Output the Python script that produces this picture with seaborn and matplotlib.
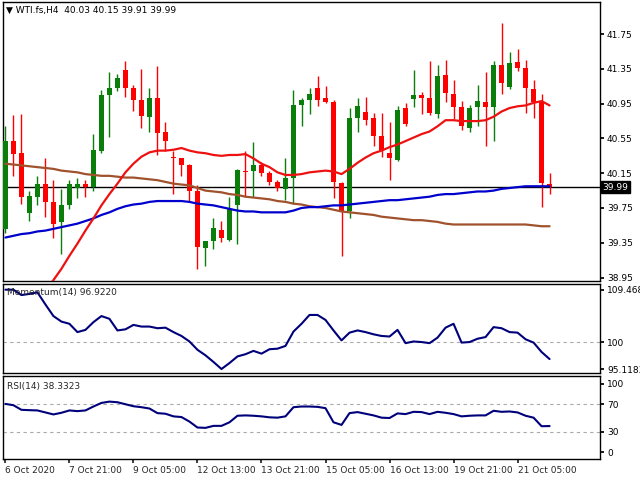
import numpy as np
import pandas as pd
import matplotlib
matplotlib.use("Agg")
import matplotlib.pyplot as plt
import seaborn as sns

opens = [39.51,40.52,40.38,39.69,39.88,40.03,39.82,39.59,39.78,39.98,40.03,39.99,40.41,41.05,41.13,41.34,41.13,40.99,40.80,41.01,
         40.62,40.34,40.32,40.24,39.95,39.29,39.37,39.50,39.38,39.79,40.18,40.17,40.24,40.15,40.05,39.97,40.10,40.94,40.99,41.13,
         41.01,40.97,40.04,39.71,40.78,40.86,40.78,40.58,40.38,40.30,40.90,41.00,41.05,41.01,40.83,41.28,41.06,40.91,40.67,40.91,
         40.97,40.91,41.39,41.14,41.43,41.36,41.12,40.97,40.03]
closes = [40.52,40.37,39.88,39.89,40.03,39.82,39.57,39.78,40.03,40.03,39.99,40.42,41.05,41.13,41.24,41.13,40.99,40.81,41.01,40.61,
          40.52,40.32,40.24,39.95,39.30,39.37,39.52,39.41,39.74,40.19,40.16,40.24,40.15,40.05,39.98,40.10,40.94,40.99,41.06,40.99,
          40.97,40.05,39.71,40.78,40.92,40.76,40.58,40.40,40.32,40.88,40.72,41.05,41.02,40.84,41.27,41.07,40.91,40.69,40.90,40.98,
          40.91,41.40,41.19,41.42,41.36,41.13,40.97,40.04,39.99]
highs = [40.69,40.82,40.83,39.95,40.12,40.32,40.07,39.97,40.07,40.09,40.07,40.60,41.11,41.32,41.29,41.44,41.16,41.35,41.13,41.38,
         40.74,40.41,40.32,40.26,40.01,39.37,39.63,39.60,39.88,40.20,40.41,40.51,40.28,40.17,40.07,40.33,41.11,41.02,41.13,41.27,
         41.15,40.99,40.05,40.90,41.02,41.03,40.84,40.84,40.74,40.92,40.96,41.34,41.09,41.44,41.39,41.45,41.22,40.98,40.94,41.17,
         41.31,41.44,41.88,41.55,41.58,41.45,41.22,41.06,40.15]
lows = [39.46,40.12,39.80,39.60,39.78,39.65,39.40,39.22,39.74,39.86,39.88,39.94,40.38,40.57,41.10,41.03,40.87,40.67,40.63,40.36,
        40.41,39.91,40.12,39.82,39.05,39.08,39.28,39.36,39.37,39.34,39.88,39.88,40.12,40.01,39.95,39.84,39.80,40.69,40.83,40.92,
        40.96,39.87,39.20,39.63,40.63,40.70,40.46,40.34,40.07,40.29,40.69,40.91,40.83,40.82,40.78,40.97,40.77,40.65,40.63,40.69,
        40.46,40.52,41.06,41.12,41.33,40.84,40.78,39.76,39.91]
ma_red = [38.30,38.40,38.50,38.60,38.70,38.80,38.92,39.05,39.20,39.34,39.49,39.63,39.78,39.91,40.03,40.16,40.26,40.34,40.39,40.41,
          40.41,40.42,40.44,40.41,40.39,40.38,40.36,40.35,40.36,40.36,40.37,40.32,40.26,40.22,40.16,40.13,40.13,40.14,40.16,40.17,
          40.18,40.17,40.14,40.20,40.27,40.33,40.38,40.41,40.45,40.48,40.52,40.56,40.60,40.63,40.69,40.76,40.76,40.75,40.75,40.75,
          40.76,40.80,40.86,40.90,40.92,40.93,40.96,40.98,40.93]
ma_blue = [39.41,39.43,39.45,39.46,39.48,39.49,39.51,39.53,39.55,39.57,39.60,39.63,39.67,39.70,39.74,39.77,39.79,39.80,39.82,39.83,
           39.83,39.83,39.83,39.82,39.80,39.79,39.78,39.76,39.74,39.72,39.71,39.71,39.70,39.70,39.70,39.70,39.72,39.75,39.76,39.76,
           39.77,39.78,39.78,39.79,39.80,39.81,39.82,39.83,39.84,39.84,39.85,39.86,39.87,39.88,39.90,39.91,39.91,39.92,39.93,39.94,
           39.94,39.95,39.97,39.98,39.99,40.00,40.00,40.00,40.00]
ma_brown = [40.26,40.25,40.24,40.23,40.22,40.21,40.20,40.18,40.17,40.16,40.14,40.13,40.12,40.12,40.11,40.10,40.10,40.09,40.08,40.07,
            40.05,40.03,40.02,40.01,39.98,39.95,39.94,39.93,39.91,39.90,39.88,39.87,39.86,39.85,39.83,39.82,39.80,39.79,39.77,39.76,
            39.75,39.73,39.71,39.70,39.69,39.68,39.67,39.65,39.64,39.63,39.62,39.61,39.61,39.60,39.59,39.57,39.56,39.56,39.56,39.56,
            39.56,39.56,39.56,39.56,39.56,39.56,39.55,39.54,39.54]
momentum = [109.47,109.47,108.5,108.7,109.0,106.8,104.7,103.7,103.3,101.8,102.2,103.6,104.7,104.2,102.1,102.3,103.1,102.8,102.8,102.5,
            102.6,101.8,101.1,100.1,98.6,97.6,96.4,95.12,96.2,97.4,97.8,98.4,97.9,98.7,98.8,99.3,101.9,103.3,104.9,104.9,
            104.0,102.1,100.3,101.7,102.1,101.8,101.4,101.1,101.0,102.2,99.8,100.1,100.0,99.8,100.8,102.6,103.3,99.9,100.0,100.6,
            100.9,102.7,102.5,101.8,101.7,100.5,99.9,98.2,96.92]
rsi = [70.5,68.6,61.9,61.4,61.0,58.1,55.2,57.6,61.0,60.0,61.0,66.7,71.9,73.8,72.9,70.0,67.1,65.7,63.8,57.1,
       56.2,52.4,51.4,44.8,36.2,35.7,38.6,38.6,43.8,53.3,53.8,53.3,52.4,51.0,50.5,52.4,65.7,66.7,66.7,66.2,
       64.3,43.8,40.0,57.1,58.6,56.2,53.8,50.5,50.0,56.7,55.7,59.0,58.6,55.7,59.0,57.6,55.7,52.4,53.3,53.8,
       53.8,60.5,59.0,59.5,58.1,53.3,50.5,38.1,38.33]
date_labels = ["6 Oct 2020", "7 Oct 21:00", "9 Oct 05:00", "12 Oct 13:00", "13 Oct 21:00",
               "15 Oct 05:00", "16 Oct 13:00", "19 Oct 21:00", "21 Oct 05:00"]
price_ticks = [41.75, 41.35, 40.95, 40.55, 40.15, 39.75, 39.35, 38.95]
last_price = 39.99

sns.set_theme(style="white")
plt.rcParams['font.family'] = ['DejaVu Sans']
df = pd.DataFrame(dict(i=np.arange(len(opens)), o=opens, c=closes, h=highs, l=lows,
                       red=ma_red, blue=ma_blue, brown=ma_brown, mom=momentum, rsi=rsi))

fig = plt.figure(figsize=(6.4, 4.8), dpi=100)
L, W = 3/640, 597/640
ax = fig.add_axes([L, 1-281/480, W, 279/480])
axm = fig.add_axes([L, 1-373/480, W, 89/480], sharex=ax)
axr = fig.add_axes([L, 1-459/480, W, 83/480], sharex=ax)
XL = (-0.3, 74.3)
FS = 6.5

for a in (ax, axm, axr):
    a.set_facecolor("white")
    for s in a.spines.values():
        s.set_color("black"); s.set_linewidth(1)
    a.yaxis.tick_right()
    a.tick_params(axis='y', labelsize=FS, length=3, pad=2, colors='black', direction='out', right=True)
    a.tick_params(axis='x', length=0, labelbottom=False)
    a.grid(False)

green, red = "#0b7d0b", "#ff0000"
up = df.c >= df.o
cols = np.where(up, green, red)
ax.vlines(df.i, df.l, df.h, colors=cols, linewidth=1, zorder=2)
ax.bar(df.i, (df.c - df.o).abs().clip(lower=0.015), bottom=np.minimum(df.o, df.c),
       width=0.62, color=cols, linewidth=0, zorder=3)
sns.lineplot(data=df, x="i", y="brown", ax=ax, color="#a0522d", linewidth=1.6, zorder=4)
sns.lineplot(data=df, x="i", y="blue", ax=ax, color="#0000cd", linewidth=1.6, zorder=4)
sns.lineplot(data=df, x="i", y="red", ax=ax, color="#ee1111", linewidth=1.6, zorder=4)
ax.axhline(last_price, color="black", linewidth=1, zorder=1)
ax.set_ylim(38.91, 42.12)
ax.set_yticks(price_ticks)
ax.set_yticklabels([f"{t:.2f}" for t in price_ticks])
ax.text(1.004, last_price, f"{last_price:.2f}", transform=ax.get_yaxis_transform(), fontsize=FS,
        color="white", va="center", ha="left",
        bbox=dict(boxstyle="square,pad=0.15", fc="black", ec="black"))
ax.text(0.005, 0.985, "▼ WTI.fs,H4  40.03 40.15 39.91 39.99", transform=ax.transAxes,
        fontsize=FS, va="top", ha="left", color="black")
ax.set_xlabel(""); ax.set_ylabel("")

sns.lineplot(data=df, x="i", y="mom", ax=axm, color="#00007a", linewidth=1.5)
axm.axhline(100, color="#aaaaaa", linestyle=(0, (3, 3)), linewidth=0.8, zorder=0)
axm.set_ylim(94.4, 110.5)
axm.set_yticks([109.4687, 100, 95.1183])
axm.set_yticklabels(["109.4687", "100", "95.1183"])
axm.text(0.006, 0.95, "Momentum(14) 96.9220", transform=axm.transAxes, fontsize=FS, va="top", ha="left")
axm.set_xlabel(""); axm.set_ylabel("")

sns.lineplot(data=df, x="i", y="rsi", ax=axr, color="#00007a", linewidth=1.5)
for lv in (70, 30):
    axr.axhline(lv, color="#aaaaaa", linestyle=(0, (3, 3)), linewidth=0.8, zorder=0)
axr.set_ylim(-9.5, 111)
axr.set_yticks([100, 70, 30, 0])
axr.set_yticklabels(["100", "70", "30", "0"])
axr.text(0.006, 0.93, "RSI(14) 38.3323", transform=axr.transAxes, fontsize=FS, va="top", ha="left")
axr.set_xlim(*XL)
axr.set_xticks(np.arange(0, 8*len(date_labels), 8))
axr.set_xticklabels(date_labels)
axr.tick_params(axis='x', labelbottom=True, length=3, labelsize=FS, pad=2, direction='out', bottom=True)
for t in axr.get_xticklabels():
    t.set_ha("left")
axr.set_xlabel(""); axr.set_ylabel("")

fig.savefig("out.png", dpi=100)
